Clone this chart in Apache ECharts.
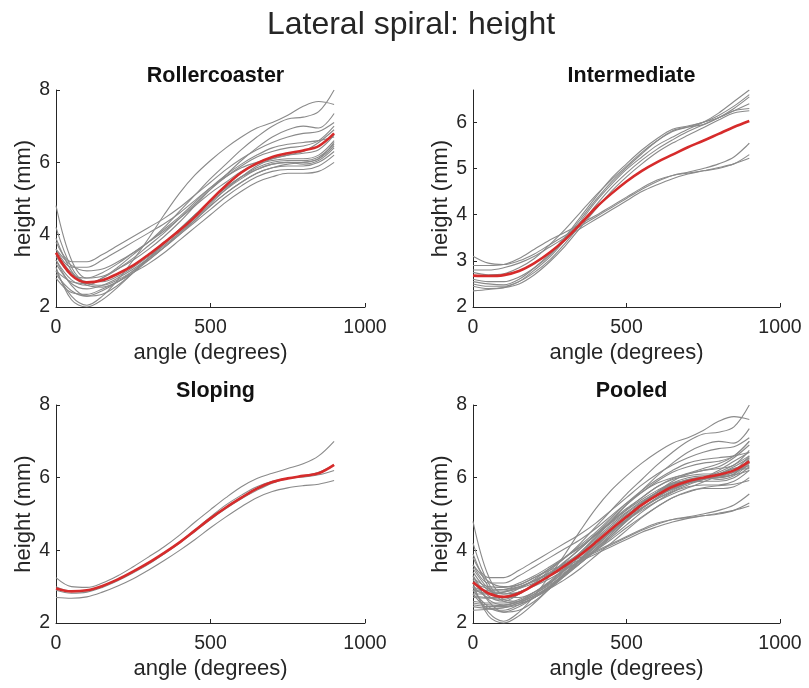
<!DOCTYPE html>
<html>
<head>
<meta charset="utf-8">
<title>Lateral spiral: height</title>
<script src="https://cdn.jsdelivr.net/npm/echarts@6/dist/echarts.min.js"></script>
<style>
  html, body { margin: 0; padding: 0; background: #ffffff; }
  #chart { width: 809px; height: 688px; }
</style>
</head>
<body>
<div id="chart"></div>
<script>
// Sample angles (degrees) shared by every trace
const angles = [0, 50, 100, 150, 200, 250, 300, 350, 400, 450, 500, 550, 600, 650, 700, 750, 800, 850, 900];

// Individual spirals, height (mm) at each angle
const rollercoasterCurves = [
  [3.0, 2.3, 2.05, 2.3, 2.75, 3.3, 3.9, 4.55, 5.15, 5.65, 6.05, 6.4, 6.7, 6.95, 7.1, 7.3, 7.55, 7.68, 7.6],
  [3.3, 2.75, 2.6, 2.8, 3.1, 3.45, 3.8, 4.2, 4.65, 5.1, 5.55, 5.95, 6.35, 6.7, 7.0, 7.2, 7.25, 7.4, 8.0],
  [4.8, 3.3, 2.8, 2.85, 3.05, 3.3, 3.6, 3.95, 4.35, 4.8, 5.25, 5.65, 6.05, 6.4, 6.7, 6.9, 7.0, 6.95, 7.35],
  [3.8, 3.25, 3.25, 3.45, 3.7, 3.95, 4.2, 4.45, 4.75, 5.1, 5.45, 5.8, 6.1, 6.35, 6.55, 6.7, 6.8, 6.85, 7.1],
  [3.6, 3.1, 3.1, 3.3, 3.55, 3.8, 4.05, 4.3, 4.6, 4.95, 5.3, 5.6, 5.85, 6.0, 6.1, 6.2, 6.3, 6.55, 6.9],
  [3.4, 2.9, 2.8, 2.95, 3.2, 3.5, 3.8, 4.1, 4.45, 4.8, 5.15, 5.45, 5.75, 5.95, 6.05, 6.1, 6.1, 6.2, 6.6],
  [3.1, 2.2, 2.0, 2.2, 2.55, 2.95, 3.35, 3.75, 4.15, 4.55, 4.95, 5.3, 5.6, 5.85, 6.0, 6.05, 6.05, 6.15, 6.5],
  [2.9, 2.45, 2.3, 2.45, 2.7, 3.0, 3.35, 3.7, 4.05, 4.4, 4.8, 5.15, 5.45, 5.7, 5.85, 5.9, 5.9, 6.0, 6.3],
  [3.2, 2.65, 2.5, 2.6, 2.8, 3.05, 3.35, 3.65, 4.0, 4.35, 4.7, 5.05, 5.35, 5.6, 5.75, 5.8, 5.8, 5.9, 6.2],
  [3.5, 2.95, 2.7, 2.7, 2.85, 3.1, 3.4, 3.75, 4.1, 4.5, 4.9, 5.25, 5.55, 5.8, 5.95, 6.0, 5.95, 6.05, 6.4],
  [2.8, 2.4, 2.35, 2.5, 2.7, 2.95, 3.2, 3.5, 3.85, 4.2, 4.55, 4.9, 5.2, 5.45, 5.6, 5.7, 5.7, 5.75, 6.0],
  [3.9, 3.0, 2.6, 2.55, 2.7, 2.95, 3.3, 3.65, 4.05, 4.45, 4.85, 5.25, 5.6, 5.9, 6.1, 6.2, 6.25, 6.35, 6.75],
  [3.3, 2.6, 2.3, 2.35, 2.6, 2.95, 3.35, 3.75, 4.15, 4.55, 4.95, 5.3, 5.6, 5.8, 5.95, 6.0, 6.0, 6.1, 6.45],
  [4.2, 3.1, 2.65, 2.6, 2.75, 3.0, 3.3, 3.65, 4.0, 4.4, 4.8, 5.15, 5.45, 5.7, 5.85, 5.95, 6.0, 6.1, 6.55],
  [3.0, 2.7, 2.65, 2.8, 3.05, 3.35, 3.7, 4.05, 4.45, 4.85, 5.25, 5.6, 5.9, 6.15, 6.3, 6.4, 6.45, 6.6, 7.0],
  [3.6, 3.15, 3.0, 3.05, 3.25, 3.5, 3.8, 4.15, 4.5, 4.9, 5.3, 5.65, 5.95, 6.2, 6.4, 6.5, 6.55, 6.6, 6.7]
];
const rollercoasterMean = [3.5, 2.88, 2.68, 2.74, 2.92, 3.15, 3.45, 3.78, 4.12, 4.5, 4.95, 5.36, 5.72, 5.97, 6.15, 6.25, 6.33, 6.45, 6.8];

const intermediateCurves = [
  [3.1, 2.95, 2.92, 3.0, 3.15, 3.35, 3.55, 3.75, 3.95, 4.15, 4.35, 4.55, 4.72, 4.85, 4.92, 5.0, 5.1, 5.25, 5.55],
  [2.9, 2.9, 2.92, 3.05, 3.25, 3.45, 3.62, 3.8, 3.98, 4.18, 4.38, 4.58, 4.75, 4.85, 4.9, 4.95, 5.0, 5.1, 5.3],
  [2.8, 2.8, 2.85, 2.95, 3.1, 3.3, 3.5, 3.7, 3.9, 4.1, 4.3, 4.5, 4.65, 4.78, 4.88, 4.95, 5.02, 5.1, 5.22],
  [2.75, 2.7, 2.72, 2.85, 3.05, 3.35, 3.68, 4.05, 4.42, 4.75, 5.05, 5.35, 5.6, 5.8, 5.9, 6.0, 6.1, 6.25, 6.4],
  [2.6, 2.55, 2.55, 2.65, 2.85, 3.12, 3.48, 3.9, 4.32, 4.7, 5.02, 5.32, 5.6, 5.82, 5.9, 5.95, 6.1, 6.3, 6.55],
  [2.5, 2.45, 2.45, 2.55, 2.75, 3.02, 3.38, 3.78, 4.2, 4.58, 4.9, 5.18, 5.42, 5.62, 5.8, 5.95, 6.1, 6.25, 6.3],
  [2.45, 2.4, 2.42, 2.5, 2.7, 2.98, 3.32, 3.72, 4.12, 4.5, 4.82, 5.1, 5.35, 5.55, 5.72, 5.88, 6.05, 6.2, 6.25],
  [2.35, 2.38, 2.42, 2.55, 2.8, 3.08, 3.45, 3.85, 4.28, 4.65, 4.98, 5.25, 5.5, 5.68, 5.85, 6.0, 6.2, 6.45, 6.7],
  [2.55, 2.5, 2.48, 2.6, 2.85, 3.15, 3.52, 3.95, 4.38, 4.78, 5.1, 5.4, 5.65, 5.85, 5.92, 6.0, 6.15, 6.35, 6.6]
];
const intermediateMean = [2.68, 2.67, 2.69, 2.78, 2.95, 3.18, 3.46, 3.8, 4.15, 4.45, 4.72, 4.95, 5.14, 5.3, 5.46, 5.6, 5.75, 5.9, 6.03];

const slopingCurves = [
  [3.25, 3.0, 2.98, 3.1, 3.3, 3.55, 3.82, 4.1, 4.42, 4.78, 5.12, 5.45, 5.75, 5.98, 6.12, 6.25, 6.38, 6.6, 7.0],
  [2.7, 2.68, 2.72, 2.85, 3.02, 3.22, 3.46, 3.72, 4.0, 4.3, 4.62, 4.92, 5.2, 5.45, 5.62, 5.72, 5.78, 5.82, 5.92],
  [3.0, 2.88, 2.88, 3.0, 3.18, 3.4, 3.65, 3.93, 4.23, 4.57, 4.92, 5.25, 5.52, 5.75, 5.9, 5.98, 6.02, 6.08, 6.2],
  [2.9, 2.82, 2.85, 2.98, 3.16, 3.38, 3.62, 3.9, 4.2, 4.52, 4.85, 5.15, 5.42, 5.65, 5.85, 5.98, 6.05, 6.15, 6.35]
];
const slopingMean = [2.95, 2.87, 2.9, 3.02, 3.2, 3.42, 3.66, 3.93, 4.22, 4.55, 4.88, 5.18, 5.45, 5.7, 5.88, 5.98, 6.05, 6.12, 6.35];

const pooledMean = [3.12, 2.82, 2.72, 2.82, 3.05, 3.3, 3.58, 3.88, 4.22, 4.58, 4.92, 5.25, 5.52, 5.75, 5.9, 6.0, 6.08, 6.2, 6.45];

// Panel definitions: title, traces, mean trace, y range and tick step
const panelTitles = ['Rollercoaster', 'Intermediate', 'Sloping', 'Pooled'];
const panelCurves = [
  rollercoasterCurves,
  intermediateCurves,
  slopingCurves,
  rollercoasterCurves.concat(intermediateCurves, slopingCurves)
];
const panelMeans = [rollercoasterMean, intermediateMean, slopingMean, pooledMean];
const yMin = [2, 2, 2, 2];
const yMax = [8, 6.7, 8, 8];
const yStep = [2, 1, 2, 2];
const yTicks = [[2, 4, 6, 8], [2, 3, 4, 5, 6], [2, 4, 6, 8], [2, 4, 6, 8]];
const xTicks = [0, 500, 1000];

const TEXT = '#262626';
const FONT = '"Liberation Sans", Arial, Helvetica, sans-serif';

const grids = [
  { left: 56, top: 90, width: 309, height: 217 },
  { left: 473, top: 90, width: 307, height: 217 },
  { left: 56, top: 405, width: 309, height: 218 },
  { left: 473, top: 405, width: 307, height: 218 }
];

const xAxes = [], yAxes = [], series = [];
const titles = [{
  text: 'Lateral spiral: height',
  left: 406, top: 4, textAlign: 'center',
  textStyle: { fontFamily: FONT, fontSize: 32, fontWeight: 'normal', color: TEXT }
}];

grids.forEach((g, i) => {
  titles.push({
    text: panelTitles[i],
    left: g.left + g.width / 2, top: g.top - 30, textAlign: 'center',
    textStyle: { fontFamily: FONT, fontSize: 21.5, fontWeight: 'bold', color: '#111' }
  });
  xAxes.push({
    gridIndex: i, type: 'value', min: 0, max: 1000, interval: 500,
    name: 'angle (degrees)', nameLocation: 'middle', nameGap: 35,
    nameTextStyle: { fontFamily: FONT, fontSize: 22, color: TEXT },
    axisLine: { show: true, lineStyle: { color: TEXT, width: 1 } },
    axisTick: { show: true, inside: true, length: 4, customValues: xTicks, lineStyle: { color: TEXT } },
    axisLabel: {
      fontFamily: FONT, fontSize: 19.5, color: TEXT, margin: 11, customValues: xTicks,
      formatter: v => String(v)
    },
    splitLine: { show: false }
  });
  yAxes.push({
    gridIndex: i, type: 'value', min: yMin[i], max: yMax[i], interval: yStep[i],
    name: 'height (mm)', nameLocation: 'middle', nameGap: 18,
    nameTextStyle: { fontFamily: FONT, fontSize: 22, color: TEXT },
    axisLine: { show: true, lineStyle: { color: TEXT, width: 1 } },
    axisTick: { show: true, inside: true, length: 4, customValues: yTicks[i], lineStyle: { color: TEXT } },
    axisLabel: {
      fontFamily: FONT, fontSize: 19.5, color: TEXT, margin: 6, customValues: yTicks[i],
      formatter: v => (Number.isInteger(v) ? String(v) : '')
    },
    splitLine: { show: false }
  });
  panelCurves[i].forEach(curve => {
    series.push({
      type: 'line', xAxisIndex: i, yAxisIndex: i,
      data: angles.map((a, k) => [a, curve[k]]),
      smooth: 0.35, symbol: 'none', silent: true, z: 2,
      lineStyle: { color: '#8a8a8a', width: 1.1 }
    });
  });
  series.push({
    type: 'line', xAxisIndex: i, yAxisIndex: i,
    data: angles.map((a, k) => [a, panelMeans[i][k]]),
    smooth: 0.35, symbol: 'none', silent: true, z: 3,
    lineStyle: { color: '#d62b2b', width: 2.6 }
  });
});

const chart = echarts.init(document.getElementById('chart'), null, { renderer: 'canvas' });
chart.setOption({
  animation: false,
  backgroundColor: '#ffffff',
  title: titles,
  grid: grids,
  xAxis: xAxes,
  yAxis: yAxes,
  series: series
});
</script>
</body>
</html>
